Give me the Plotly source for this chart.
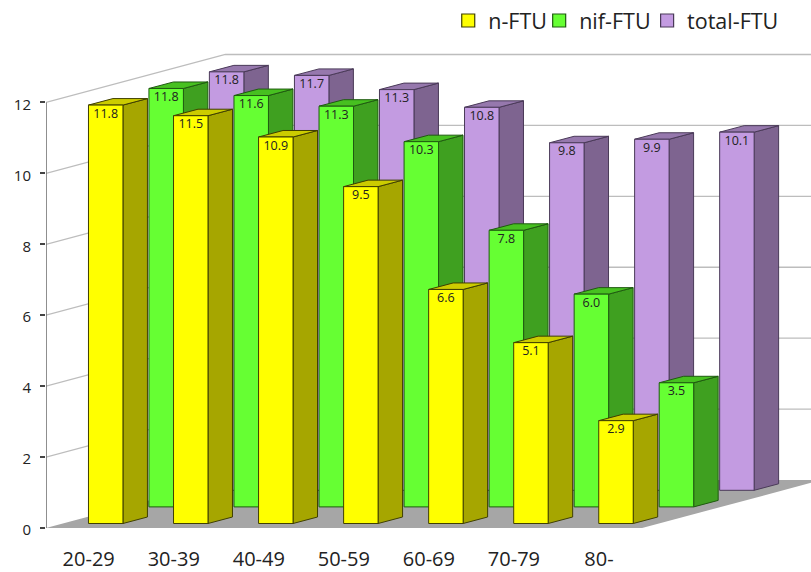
import plotly.graph_objects as go

categories = ["20-29", "30-39", "40-49", "50-59", "60-69", "70-79", "80-"]
n_ftu = [11.8, 11.5, 10.9, 9.5, 6.6, 5.1, 2.9]
nif_ftu = [11.8, 11.6, 11.3, 10.3, 7.8, 6.0, 3.5]
total_ftu = [11.8, 11.7, 11.3, 10.8, 9.8, 9.9, 10.1]
y_ticks = [0, 2, 4, 6, 8, 10, 12]

PX_X = 85.1      # px per category
PX_Y = 35.46     # px per value unit
X0 = 105.25      # px centre of first front bar
LEFT, BOTTOM = 45.5, 528
W, H = 811, 572

bar_w = 34.5 / PX_X
dep_x = 24.5 / PX_X
dep_y = 6.5 / PX_Y
ser_x = 60.5 / PX_X
base_y0 = 4.5 / PX_Y
ser_y = 16.6 / PX_Y
floor_dx = 179.5 / PX_X
floor_dy = 48 / PX_Y
x_left = (LEFT - X0) / PX_X
x_right = (W - X0) / PX_X
y_top = BOTTOM / PX_Y
x_floor_r = (642 - X0) / PX_X
label_drop = 9.5 / PX_Y

series = [
    ("total-FTU", total_ftu, 2, "#C39BE1", "#7E6490", "#9678AD", "#4a3a58"),
    ("nif-FTU", nif_ftu, 1, "#66FF33", "#3FA020", "#47C020", "#1f5a10"),
    ("n-FTU", n_ftu, 0, "#FFFF00", "#A6A600", "#CCCC00", "#3f3f00"),
]

fig = go.Figure()

# floor
fig.add_trace(go.Scatter(
    x=[x_left, x_floor_r, x_floor_r + floor_dx, x_left + floor_dx, x_left],
    y=[0, 0, floor_dy, floor_dy, 0],
    mode="lines", fill="toself", fillcolor="#A6A6A6",
    line=dict(width=0), hoverinfo="skip", showlegend=False))

# walls / gridlines
for v in y_ticks[1:]:
    fig.add_trace(go.Scatter(
        x=[x_left, x_left + floor_dx, x_right],
        y=[v, v + floor_dy, v + floor_dy],
        mode="lines", line=dict(color="#BDBDBD", width=1.3),
        hoverinfo="skip", showlegend=False))

# value axis line
fig.add_trace(go.Scatter(
    x=[x_left, x_left], y=[0, 12], mode="lines",
    line=dict(color="#6a6a6a", width=1.5),
    hoverinfo="skip", showlegend=False, cliponaxis=False))

def polys(faces):
    xs, ys = [], []
    for f in faces:
        xs += [p[0] for p in f] + [f[0][0], None]
        ys += [p[1] for p in f] + [f[0][1], None]
    return xs, ys

for name, vals, s, c_front, c_side, c_top, c_edge in series:
    front, side, top, lx, ly = [], [], [], [], []
    base = base_y0 + s * ser_y
    for i, v in enumerate(vals):
        x0 = i + s * ser_x - bar_w / 2
        x1 = x0 + bar_w
        t = base + v
        front.append([(x0, base), (x1, base), (x1, t), (x0, t)])
        side.append([(x1, base), (x1 + dep_x, base + dep_y),
                     (x1 + dep_x, t + dep_y), (x1, t)])
        top.append([(x0, t), (x1, t), (x1 + dep_x, t + dep_y), (x0 + dep_x, t + dep_y)])
        lx.append((x0 + x1) / 2)
        ly.append(t - label_drop)
    for faces, col in ((side, c_side), (top, c_top), (front, c_front)):
        xs, ys = polys(faces)
        fig.add_trace(go.Scatter(
            x=xs, y=ys, mode="lines", fill="toself", fillcolor=col,
            line=dict(color=c_edge, width=1), connectgaps=False,
            hoverinfo="skip", showlegend=False))
    fig.add_trace(go.Scatter(
        x=lx, y=ly, mode="text", text=[f"{v:.1f}" for v in vals],
        textposition="middle center",
        textfont=dict(family="Open Sans", size=12.5, color="#222222"),
        hoverinfo="skip", showlegend=False))

# legend entries, one legend box per entry so each can sit at its own place
legend_entries = [("n-FTU", "#FFFF00", "#3f3f00", "legend", 448),
                  ("nif-FTU", "#66FF33", "#1f5a10", "legend2", 539),
                  ("total-FTU", "#C39BE1", "#4a3a58", "legend3", 647)]
legend_layout = {}
for name, col, edge, key, px in legend_entries:
    fig.add_trace(go.Scatter(
        x=[None], y=[None], mode="markers", name=name, legend=key,
        marker=dict(symbol="square", size=13, color=col, line=dict(color=edge, width=1.2))))
    legend_layout[key] = dict(
        orientation="h", x=(px - LEFT) / (W - LEFT), xanchor="left",
        y=1.0, yanchor="top", bgcolor="rgba(0,0,0,0)",
        font=dict(size=21.5, family="Open Sans"), itemwidth=30)

fig.update_layout(
    width=W, height=H, autosize=False,
    margin=dict(l=LEFT, r=0, t=0, b=H - BOTTOM, pad=0, autoexpand=False),
    paper_bgcolor="white", plot_bgcolor="white",
    font=dict(family="Open Sans", color="#222222"),
    showlegend=True,
    **legend_layout,
    xaxis=dict(range=[x_left, x_right], showgrid=False, zeroline=False, showline=False,
               tickmode="array", tickvals=[i - 0.2 for i in range(len(categories))],
               ticktext=categories, ticks="outside", ticklen=13,
               tickcolor="rgba(0,0,0,0)", tickfont=dict(size=20, family="Open Sans", color="#222222"),
               fixedrange=True),
    yaxis=dict(range=[0, y_top], showgrid=False, zeroline=False, showline=False,
               tickmode="array", tickvals=y_ticks, ticktext=[str(v) for v in y_ticks],
               ticks="outside", ticklen=5, tickwidth=1.5, tickcolor="#444444",
               ticklabelstandoff=6, ticklabelshift=2,
               tickfont=dict(size=15, family="Open Sans", color="#222222"),
               fixedrange=True),
)

fig.write_html("out.html", config={"displayModeBar": False},
               post_script="document.body.style.margin='0';")
